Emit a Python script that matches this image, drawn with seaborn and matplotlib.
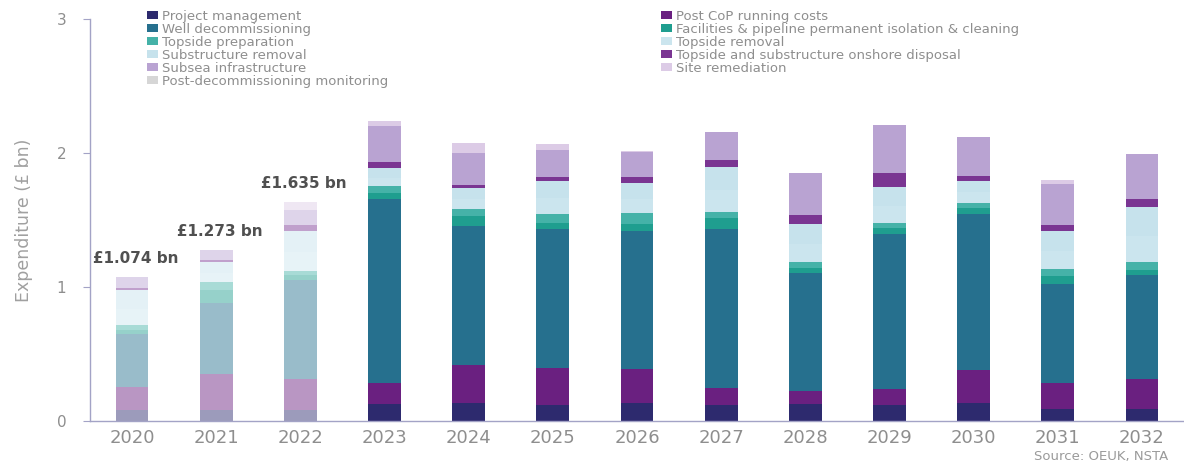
import numpy as np
import pandas as pd
import matplotlib
matplotlib.use("Agg")
import matplotlib.pyplot as plt
from matplotlib.patches import Patch
from matplotlib.colors import to_rgb
import seaborn as sns

# ---------------- data (£ bn) ----------------
years = ["2020", "2021", "2022", "2023", "2024", "2025", "2026",
         "2027", "2028", "2029", "2030", "2031", "2032"]
phase = ["hist"] * 3 + ["fcst"] * 10

project_management = [0.080, 0.080, 0.085, 0.127, 0.137, 0.120, 0.132, 0.120, 0.127, 0.120, 0.132, 0.092, 0.092]
post_cop_running   = [0.174, 0.269, 0.226, 0.159, 0.281, 0.274, 0.254, 0.125, 0.097, 0.117, 0.249, 0.194, 0.224]
well_decom         = [0.393, 0.532, 0.744, 1.369, 1.037, 1.040, 1.034, 1.187, 0.883, 1.159, 1.164, 0.734, 0.771]
facilities_pipe    = [0.035, 0.100, 0.032, 0.049, 0.075, 0.042, 0.050, 0.082, 0.033, 0.042, 0.042, 0.062, 0.040]
topside_prep       = [0.032, 0.057, 0.032, 0.050, 0.050, 0.070, 0.080, 0.049, 0.045, 0.037, 0.042, 0.055, 0.060]
topside_removal    = [0.120, 0.070, 0.140, 0.060, 0.075, 0.115, 0.105, 0.160, 0.135, 0.130, 0.080, 0.130, 0.195]
substructure_rem   = [0.141, 0.077, 0.159, 0.072, 0.082, 0.131, 0.123, 0.176, 0.151, 0.143, 0.084, 0.151, 0.218]
onshore_disposal   = [0.020, 0.020, 0.043, 0.049, 0.025, 0.032, 0.040, 0.050, 0.067, 0.104, 0.035, 0.042, 0.060]
subsea_infra       = [0.080, 0.068, 0.117, 0.266, 0.236, 0.199, 0.189, 0.211, 0.316, 0.356, 0.289, 0.306, 0.331]
site_remediation   = [0.000, 0.000, 0.057, 0.040, 0.079, 0.042, 0.010, 0.000, 0.000, 0.000, 0.000, 0.030, 0.000]
post_decom_monitor = [0.000, 0.000, 0.000, 0.000, 0.000, 0.000, 0.000, 0.000, 0.000, 0.000, 0.000, 0.000, 0.000]

series_names = ["Project management", "Post CoP running costs", "Well decommissioning",
                "Facilities & pipeline permanent isolation & cleaning", "Topside preparation",
                "Topside removal", "Substructure removal", "Topside and substructure onshore disposal",
                "Subsea infrastructure", "Site remediation", "Post-decommissioning monitoring"]
series_values = [project_management, post_cop_running, well_decom, facilities_pipe, topside_prep,
                 topside_removal, substructure_rem, onshore_disposal, subsea_infra,
                 site_remediation, post_decom_monitor]
series_colors = ["#2d2a6e", "#6a2080", "#26708e", "#1f9e8f", "#45b2a8",
                 "#cbe5ee", "#c6e2ec", "#7a3592", "#b9a3d2", "#dccbe6", "#d6d6d6"]

total_labels = ["£1.074 bn", "£1.273 bn", "£1.635 bn"]

# ---------------- style ----------------
sns.set_style("white")
plt.rcParams["font.family"] = ["DejaVu Sans"]

SPINE = "#a3a3c6"
GREY = "#8e8e8e"
FADE = 0.47


def faded(c, a=FADE):
    r, g, b = to_rgb(c)
    return (1 - a * (1 - r), 1 - a * (1 - g), 1 - a * (1 - b))


fig = plt.figure(figsize=(11.84, 4.65), dpi=100)
ax = fig.add_axes([90 / 1184, (465 - 421) / 465, 1094 / 1184, (421 - 19) / 465])

vals = np.array(series_values)
cum = np.cumsum(vals, axis=0)

# draw cumulative tops from the top layer down so each layer shows as a stacked segment
for i in range(len(series_names) - 1, -1, -1):
    df = pd.DataFrame({"year": years, "value": cum[i], "phase": phase})
    sns.barplot(data=df, x="year", y="value", hue="phase", order=years,
                palette={"hist": faded(series_colors[i]), "fcst": series_colors[i]},
                hue_order=["hist", "fcst"], dodge=False, width=0.39, saturation=1,
                linewidth=0, legend=False, errorbar=None, ax=ax)

totals = cum[-1]
for k, lab in enumerate(total_labels):
    ax.text(k + 0.04, totals[k] + 0.14, lab, ha="center", va="center",
            fontsize=11, color="#505050", fontweight="bold")

ax.set_xlim(-0.5, len(years) - 0.5)
ax.set_ylim(0, 3)
ax.set_yticks([0, 1, 2, 3])
ax.set_xlabel("")
ax.set_ylabel("Expenditure (£ bn)", fontsize=12.5, color="#a0a0a0", labelpad=17)

for s in ["top", "right"]:
    ax.spines[s].set_visible(False)
for s in ["left", "bottom"]:
    ax.spines[s].set_color(SPINE)
    ax.spines[s].set_linewidth(1.0)

ax.tick_params(axis="x", which="major", length=0, pad=6, labelsize=13, labelcolor=GREY)
ax.set_xticks(np.arange(-0.5, len(years), 1.0), minor=True)
ax.tick_params(axis="x", which="minor", length=3, color=SPINE, direction="out")
ax.tick_params(axis="y", length=5, color=SPINE, direction="out", pad=12,
               labelsize=11, labelcolor=GREY, left=True)

# legend (two columns filled row-wise, as in the reference)
handles = [Patch(facecolor=c, edgecolor="none") for c in series_colors]
col1 = [0, 2, 4, 6, 8, 10]
col2 = [1, 3, 5, 7, 9]
leg_kw = dict(loc="upper left", frameon=False, fontsize=9.5, labelcolor=GREY,
              handlelength=0.85, handleheight=0.55, handletextpad=0.25,
              labelspacing=0.0, borderpad=0, borderaxespad=0)
fig.legend([handles[i] for i in col1], [series_names[i] for i in col1],
           bbox_to_anchor=(147 / 1184, 1 - 10 / 465), **leg_kw)
fig.legend([handles[i] for i in col2], [series_names[i] for i in col2],
           bbox_to_anchor=(661 / 1184, 1 - 10 / 465), **leg_kw)

fig.text(1168 / 1184, 1 - 456 / 465, "Source: OEUK, NSTA", ha="right", va="center",
         fontsize=9.5, color="#9a9a9a")

fig.savefig("out.png", dpi=100)
